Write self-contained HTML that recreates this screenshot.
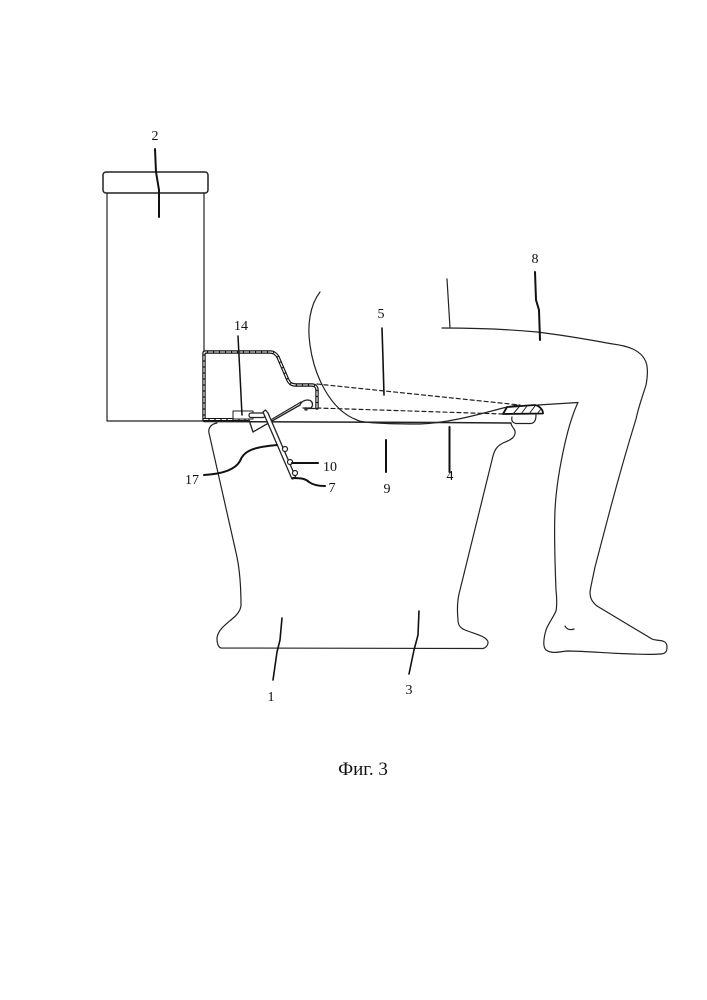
<!DOCTYPE html>
<html><head><meta charset="utf-8"><style>
html,body{margin:0;padding:0;background:#fff}
svg{display:block}
text{font-family:"Liberation Serif",serif;fill:#111;text-anchor:middle;font-size:14px}
</style></head><body>
<svg width="707" height="1000" viewBox="0 0 707 1000" xmlns="http://www.w3.org/2000/svg">
<rect width="707" height="1000" fill="#fff"/>
<g fill="none" stroke="#222" stroke-width="1.2" stroke-linejoin="round" stroke-linecap="round">
<!-- tank -->
<rect x="103" y="172" width="105" height="21" rx="3" stroke-width="1.500"/>
<path d="M107 193V421H204M204 193V421"/>
<!-- bowl -->
<path d="M204 421.5L440 422.5L511 423" stroke-width="1.500"/>
<path d="M217 423C211 424 208 428 209 433L237 557C240 572 241 590 241 606C240 612 236 616 232 619C225 625 218 630 217 638C217 643 218 647 221 648L483 648.500C488 647 489 642 487 640C484 636 478 635 465 630C460 628 458 625 458 620C457 610 457 600 460 590L492 460C494 450 497 446 503 443C511 440 516 437 515 431C514 428 511 426 511 423"/>
<path d="M512 417C511 421 513 423 516 423.500L531 423.500C535 423 536 419 536 415"/>
<!-- person -->
<path d="M320 292C310 305 307 325 310 345C314 375 330 410 357 420C362 423 385 424 420 424C445 423 470 417 503 408L517 405"/>
<path d="M538 405L578 402.500C572 415 568 430 565 443C560 465 556 490 555 510C554 535 555 565 556 590C557 600 557 606 556 611C553 618 549 622 546 630C544 637 542 646 546 650C552 654 558 652 567 651C585 651 605 653 620 653.500C635 654 650 655 660 654C666 654 667 651 667 647C667 643 665 641 660 640.500C656 640 654 640 652 639L597 606C592 602 590 598 590 592C591 585 593 577 595 567L610 510C618 480 628 445 636 419C639 405 643 395 646 385C648 375 648 365 645 360C640 350 628 346 613 344C590 340 570 336 537 332C505 329 470 328 442 328"/>
<path d="M447 279L450 328"/>
<path d="M565 626C567 630 571 630 574 629"/>
<!-- dashed -->
<path d="M317 384L520 405" stroke-dasharray="4 3"/>
<path d="M317 408L503 414" stroke-dasharray="4 3"/>
<!-- channel -->
<path d="M204 420V353C204 352 205 352 206 352H270C274 352 276 354 278 357L287 378C289 383 291 385 296 385H312C315 385 317 387 317 390V408" stroke="#111" stroke-width="3.4"/>
<path d="M204 420V353C204 352 205 352 206 352H270C274 352 276 354 278 357L287 378C289 383 291 385 296 385H312C315 385 317 387 317 390V408" stroke="#fff" stroke-width="1.1" stroke-dasharray="4 2"/>
<path d="M204 419.500H248" stroke="#111" stroke-width="3"/>
<path d="M204 419.500H248" stroke="#fff" stroke-width="1" stroke-dasharray="4 2"/>
<path d="M306 408.500H317"/>
<!-- mechanism -->
<rect x="233" y="411" width="20" height="8" fill="#fff" stroke-width="1"/>
<rect x="249" y="413" width="16" height="4.500" rx="2" fill="#fff" stroke-width="1.200"/>
<path d="M249 420L253 432L300 405M269 421L301 402" stroke-width="1.300"/>
<path d="M263 412L265.500 410L268 413L296 478L292 479Z" fill="#fff" stroke-width="1.300"/>
<circle cx="285" cy="449" r="2.500" fill="#fff"/>
<circle cx="290" cy="462" r="2.500" fill="#fff"/>
<circle cx="295" cy="473" r="2.500" fill="#fff"/>
<path d="M300 405C302 400 308 399 311 401C313 403 313 406 311 408L303 408" fill="#fff" stroke-width="1.300"/>
<circle cx="306" cy="409" r="1.800" fill="#333" stroke="none"/>
<!-- seat -->
<path d="M507 407L535 405C540 406 543 410 543 413.500L503 414Z" fill="#fff" stroke="#111" stroke-width="1.800"/>
<path d="M513 414L519 407M521 414L527 406M529 414L535 406M537 414L541 409" stroke-width="1"/>
</g>
<!-- leaders -->
<g fill="none" stroke="#111" stroke-width="2" stroke-linecap="round" stroke-linejoin="round">
<path d="M155 149L156 172L159 190L159 217"/>
<path d="M238 336L240 375L242 415" stroke-width="1.500"/>
<path d="M382 328L383 360L384 395" stroke-width="1.600"/>
<path d="M535 272L536 300L539 310L540 340"/>
<path d="M204 475C222 474 235 470 240 461C244 450 255 447 277 445"/>
<path d="M292 463H318"/>
<path d="M293 478C302 478 306 479 309 482C313 485 318 486 325 486"/>
<path d="M449.500 427V472"/>
<path d="M386 440V472"/>
<path d="M282 618L280 640L277 652L273 680" stroke-width="1.600"/>
<path d="M419 611L418 635L414 650L409 674" stroke-width="1.600"/>
</g>
<text x="155" y="140">2</text>
<text x="241" y="330">14</text>
<text x="381" y="318">5</text>
<text x="535" y="263">8</text>
<text x="192" y="484">17</text>
<text x="330" y="471">10</text>
<text x="332" y="492">7</text>
<text x="387" y="493">9</text>
<text x="450" y="480">4</text>
<text x="271" y="701">1</text>
<text x="409" y="694">3</text>
<text x="363" y="775" style="font-size:19px">Фиг. 3</text>
</svg>
</body></html>
